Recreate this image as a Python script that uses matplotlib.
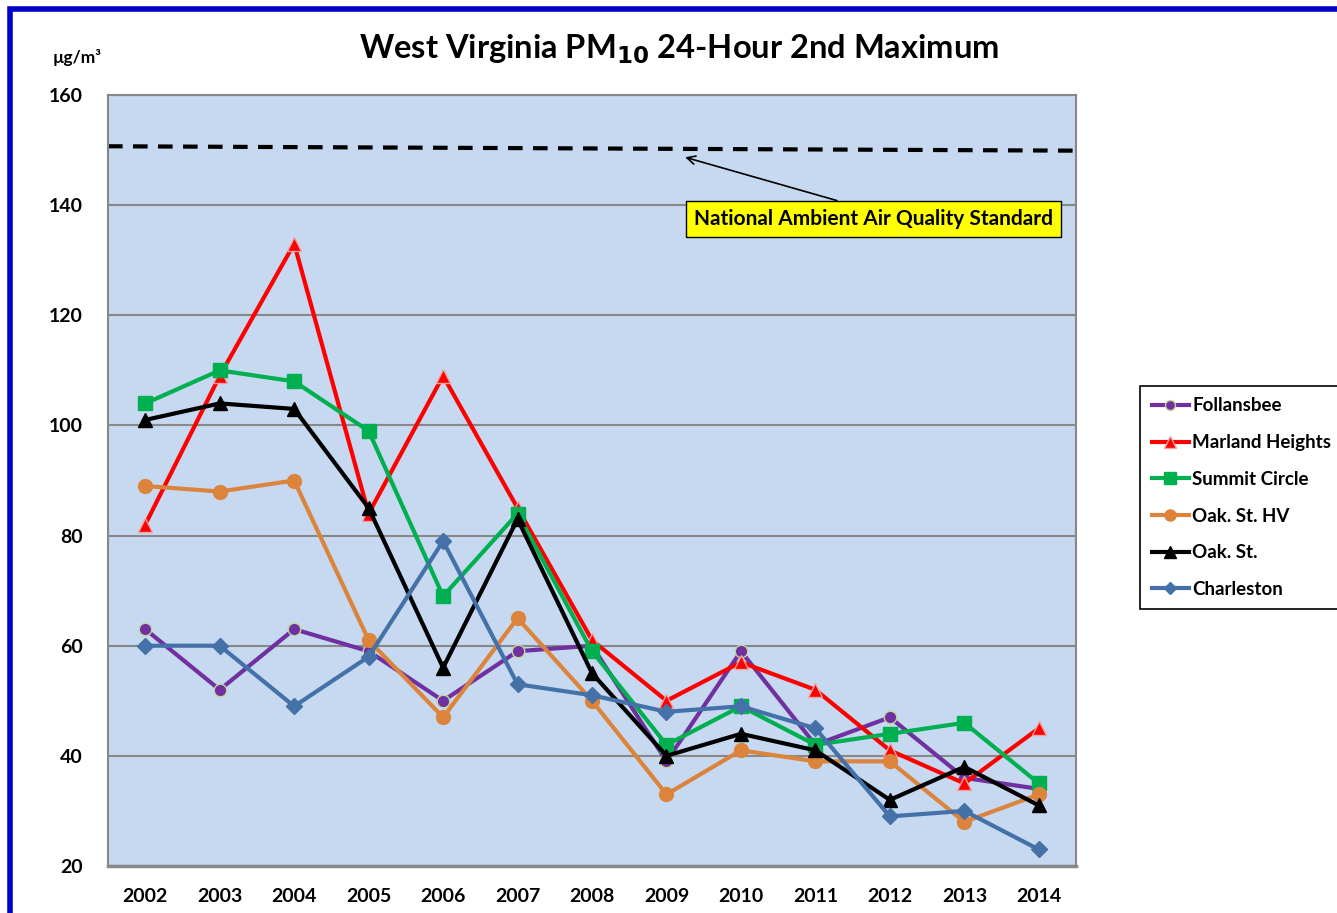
import matplotlib.pyplot as plt
from matplotlib.patches import Rectangle

plt.rcParams['font.family'] = ['Lato', 'DejaVu Sans']

years = list(range(2002, 2015))

follansbee = [63, 52, 63, 59, 50, 59, 60, 39, 59, 42, 47, 36, 34]
marland = [82, 109, 133, 84, 109, 85, 61, 50, 57, 52, 41, 35, 45]
summit = [104, 110, 108, 99, 69, 84, 59, 42, 49, 42, 44, 46, 35]
oak_hv = [89, 88, 90, 61, 47, 65, 50, 33, 41, 39, 39, 28, 33]
oak = [101, 104, 103, 85, 56, 83, 55, 40, 44, 41, 32, 38, 31]
charleston = [60, 60, 49, 58, 79, 53, 51, 48, 49, 45, 29, 30, 23]

naaqs_x = [2001.5, 2014.5]
naaqs_y = [150.7, 149.9]

fig = plt.figure(figsize=(13.37, 9.13), dpi=100)
ax = fig.add_axes([0.0808, 0.0515, 0.724, 0.8444])
ax.set_facecolor('#C6D9F1')

# blue outer frame (only top/left visible in the original)
fig.patches.append(Rectangle((0.0075, -0.05), 1.1, 1.04, transform=fig.transFigure,
                             fill=False, edgecolor='#0000C8', linewidth=4, zorder=0))

ax.yaxis.grid(True, color='#888888', linewidth=1.5)
ax.set_axisbelow(True)
for s in ax.spines.values():
    s.set_color('#888888')
    s.set_linewidth(1.5)
ax.spines['bottom'].set_linewidth(2.5)

ax.plot(naaqs_x, naaqs_y, color='black', linestyle=(0, (3.5, 2.5)), linewidth=3)

lw = 3
ax.plot(years, follansbee, color='#7030A0', lw=lw, marker='o', ms=9,
        mfc='#7030A0', mec='#C3D69B', mew=1, label='Follansbee')
ax.plot(years, marland, color='#FF0000', lw=lw, marker='^', ms=10,
        mfc='#FF0000', mec='#F2A0A0', mew=1, label='Marland Heights')
ax.plot(years, summit, color='#00B050', lw=lw, marker='s', ms=10,
        mfc='#00B050', mec='#00B050', label='Summit Circle')
ax.plot(years, oak_hv, color='#DC843C', lw=lw, marker='o', ms=10,
        mfc='#DC843C', mec='#DC843C', label='Oak. St. HV')
ax.plot(years, oak, color='black', lw=lw, marker='^', ms=10,
        mfc='black', mec='black', label='Oak. St.')
ax.plot(years, charleston, color='#4472A8', lw=lw, marker='D', ms=8,
        mfc='#4472A8', mec='#4472A8', label='Charleston')

ax.set_xlim(2001.5, 2014.5)
ax.set_ylim(20, 160)
ax.set_xticks(years)
ax.set_yticks(range(20, 161, 20))
ax.tick_params(length=0, labelsize=14)
ax.tick_params(axis='x', pad=16)
ax.tick_params(axis='y', pad=18)
for t in ax.get_xticklabels() + ax.get_yticklabels():
    t.set_fontweight('bold')

fig.text(0.508, 0.946, 'West Virginia PM$_{\\mathbf{10}}$ 24-Hour 2nd Maximum',
         ha='center', va='center', fontsize=23.5, fontweight='bold')
fig.text(0.058, 0.937, 'µg/m³', ha='center', va='center', fontsize=12.5, fontweight='bold')

ax.annotate('National Ambient Air Quality Standard', xy=(2009.25, 148.7),
            xytext=(2011.78, 137.5), ha='center', va='center',
            fontsize=15, fontweight='bold',
            bbox=dict(boxstyle='square,pad=0.38', fc='#FFFF00', ec='black', lw=1),
            arrowprops=dict(arrowstyle='->', color='black', lw=1.2,
                            shrinkA=0, shrinkB=0, relpos=(0.48, 1.0)))

leg = ax.legend(loc='upper left', bbox_to_anchor=(0.853, 0.577),
                bbox_transform=fig.transFigure, fontsize=13.5, frameon=True,
                fancybox=False, edgecolor='black', framealpha=1,
                handlelength=2.0, handletextpad=0.15, labelspacing=1.05,
                borderpad=0.6, markerscale=0.8, borderaxespad=0)
leg.get_frame().set_linewidth(1.2)
for t in leg.get_texts():
    t.set_fontweight('bold')

fig.savefig('out.png', dpi=100)
